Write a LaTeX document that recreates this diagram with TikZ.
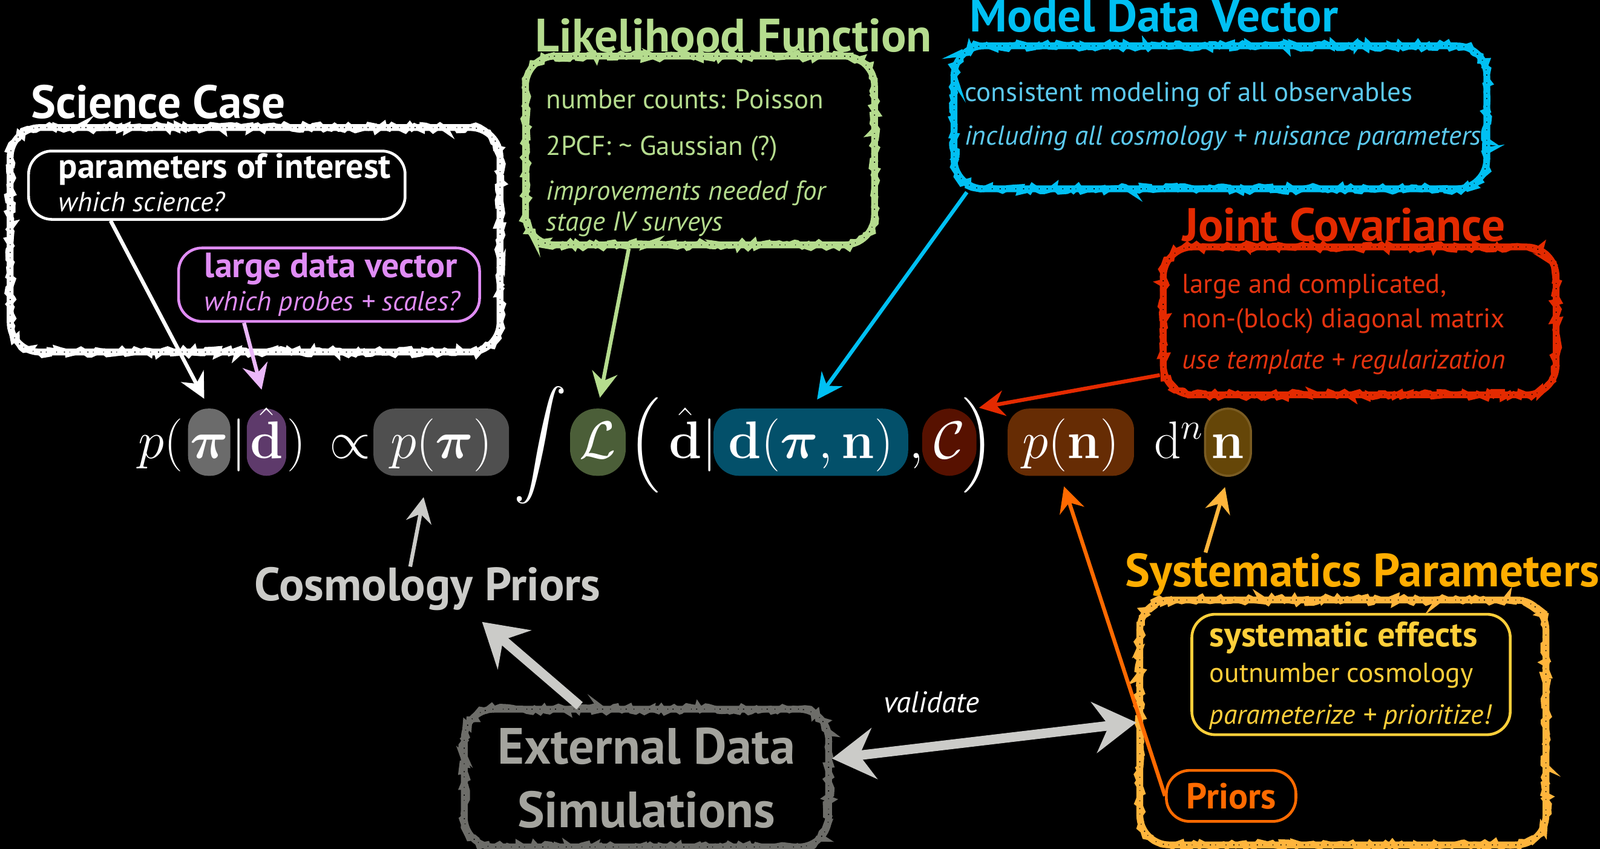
\documentclass[tikz,border=0pt]{standalone}
\usepackage[no-math]{fontspec}
\setmainfont{PT Sans}
\usepackage{amsmath}
\usepackage{tikz}
\usetikzlibrary{positioning,arrows.meta,calc,decorations.pathmorphing}
\definecolor{sciViolet}{HTML}{E08CF5}
\definecolor{sciVioletLight}{HTML}{EBB8FA}
\definecolor{likeGreen}{HTML}{B5DC8E}
\definecolor{modelCyan}{HTML}{00C0F3}
\definecolor{modelCyanText}{HTML}{5CCAF0}
\definecolor{covRed}{HTML}{E42A00}
\definecolor{covRedText}{HTML}{E5330F}
\definecolor{sysOrange}{HTML}{FFAD00}
\definecolor{sysChalk}{HTML}{FFB53C}
\definecolor{sysYellow}{HTML}{FFCF3A}
\definecolor{priorOrange}{HTML}{FF6A00}
\definecolor{cosmoGrey}{HTML}{CBCBC8}
\definecolor{extGrey}{HTML}{6D6D69}
\definecolor{extGreyText}{HTML}{A4A49E}
\definecolor{pillPi}{HTML}{6B6B6B}
\definecolor{pillD}{HTML}{5E3A6B}
\definecolor{pillPrior}{HTML}{4F4F4F}
\definecolor{pillL}{HTML}{4B5E38}
\definecolor{pillModel}{HTML}{03506A}
\definecolor{pillCov}{HTML}{571100}
\definecolor{pillPn}{HTML}{662C04}
\definecolor{pillN}{HTML}{654608}
\definecolor{pillNEdge}{HTML}{7A5C22}

\newcommand{\bigdelim}[2]{\nulldelimiterspace=0pt\relax\left#1\vcenter{\hbox{\rule{0pt}{44pt}}}\right#2}

\tikzset{
  chalkbox/.style={draw=#1, line width=3.2pt, rounded corners=14pt,
    preaction={draw=#1, line width=2.8pt, sharp corners, decorate,
      decoration={random steps, segment length=1.8pt, amplitude=1.4pt}},
    postaction={draw=black, line width=.45pt,
      dash pattern=on .3pt off 3.3pt on .5pt off 2.1pt on .25pt off 4.6pt}},
  ibox/.style={draw=#1, line width=1.3pt, rounded corners=11pt},
  headline/.style={text=#1, inner sep=0pt, font=\fontsize{22}{26}\selectfont\bfseries},
  boxtext/.style={text=#1, inner sep=0pt, anchor=north west, align=left,
    font=\fontsize{12.8}{14.5}\selectfont},
  iboxtext/.style={text=#1, inner sep=0pt, anchor=west, align=left,
    font=\fontsize{13}{15.5}\selectfont},
  fpart/.style={text=white, inner xsep=0pt, inner ysep=1pt,
    font=\fontsize{26}{31}\selectfont},
  pill/.style={fpart, fill=#1, inner xsep=1.5pt, inner ysep=1.3pt, rounded corners=10pt,
    text height=22pt, text depth=7pt},
  arr/.style={draw=#1, line width=1.8pt, shorten >=5pt,
    -{Stealth[length=12pt, width=12pt, inset=4pt]}},
  bigarr/.style={draw=#1, line width=4.5pt,
    -{Stealth[length=20pt, width=24pt, inset=7pt]}},
}
\newcommand{\bfline}[1]{{\fontsize{16.5}{18}\selectfont\bfseries #1}}

\begin{document}
\begin{tikzpicture}[x=0.016862cm, y=-0.016862cm]
  \fill[black] (0,0) rectangle (1568,832);
  \useasboundingbox (0,0) rectangle (1568,832);

  % Science case
  \node[headline=white, anchor=west] (scititle) at (30,100) {Science Case};
  \node[chalkbox=white, minimum width=8.094cm, minimum height=3.71cm] (scibox) at (250,235) {};
  \node[ibox=white, minimum width=6.222cm, minimum height=1.13cm] (params) at (212.5,181.5) {};
  \node[iboxtext=white] (paramstext) at (57,179)
    {\bfline{parameters of interest}\\\textit{which science?}};
  \node[ibox=sciViolet, minimum width=4.974cm, minimum height=1.214cm] (dvec) at (322.5,279) {};
  \node[iboxtext=sciViolet] (dvectext) at (200,279)
    {\bfline{large data vector}\\\textit{which probes + scales?}};

  % Likelihood function
  \node[headline=likeGreen] (liketitle) at (719,35) {Likelihood Function};
  \node[chalkbox=likeGreen, minimum width=5.767cm, minimum height=3.119cm] (likebox) at (686,147.5) {};
  \node[boxtext=likeGreen] (liketext) at (535,87)
    {number counts: Poisson\\[7.5pt]2PCF: \char`~{} Gaussian (?)\\[6.6pt]\textit{improvements needed for}\\\textit{stage IV surveys}};

  % Model data vector
  \node[headline=modelCyan] (modeltitle) at (1131,15) {Model Data Vector};
  \node[chalkbox=modelCyan, minimum width=8.802cm, minimum height=2.361cm] (modelbox) at (1196,115) {};
  \node[boxtext=modelCyanText] (modeltext) at (945,80)
    {consistent modeling of all observables\\[6pt]\textit{including all cosmology + nuisance parameters}};

  % Joint covariance
  \node[headline=covRed] (jointtitle) at (1317,220) {Joint Covariance};
  \node[chalkbox=covRed, minimum width=6.492cm, minimum height=2.445cm] (jointbox) at (1332.5,314.5) {};
  \node[boxtext=covRedText] (jointtext) at (1158,268)
    {large and complicated,\\[1.8pt]non-(block) diagonal matrix\\[4.7pt]\textit{use template + regularization}};

  % Posterior
  \node[fpart, anchor=base west] (f1) at (135,449) {$p($};
  \node[pill=pillPi, inner xsep=1pt, rounded corners=9.4pt, base right=2pt of f1] (hpi) {$\boldsymbol{\pi}$};
  \node[fpart, base right=0pt of hpi] (f2) {$|$};
  \node[pill=pillD, rounded corners=9.4pt, base right=0pt of f2] (hd) {$\hat{\mathbf{d}}$};
  \node[fpart, base right=0pt of hd] (f3) {$)\,\propto$};
  \node[pill=pillPrior, inner xsep=8pt, base right=1pt of f3] (hppi) {$p(\boldsymbol{\pi})$};
  \node[fpart, base right=2pt of hppi] (f4) {$\displaystyle\int$};
  \node[pill=pillL, inner xsep=4.5pt, rounded corners=12.5pt, base right=1pt of f4] (hL) {$\mathcal{L}$};
  \node[fpart, base right=1pt of hL] (f5) {$\bigdelim(.\hat{\mathbf{d}}|$};
  \node[pill=pillModel, inner xsep=7pt, rounded corners=12pt, base right=-2pt of f5] (hdv) {$\mathbf{d}(\boldsymbol{\pi},\mathbf{n})$};
  \node[fpart, base right=0pt of hdv] (f6) {$,$};
  \node[pill=pillCov, inner xsep=5.5pt, rounded corners=13pt, base right=-1pt of f6] (hC) {$\mathcal{C}$};
  \node[fpart, base right=-7pt of hC] (f7) {$\bigdelim.)$};
  \node[pill=pillPn, inner xsep=7pt, base right=6pt of f7] (hpn) {$p(\mathbf{n})$};
  \node[fpart, base right=9pt of hpn] (f8) {$\mathrm{d}^n$};
  \node[pill=pillN, draw=pillNEdge, line width=1pt, inner xsep=3pt, rounded corners=11pt,
    base right=0pt of f8] (hn) {$\mathbf{n}$};

  % Systematics
  \node[headline=sysOrange] (systitle) at (1335,563) {Systematics Parameters};
  \node[chalkbox=sysChalk, minimum width=6.711cm, minimum height=4.047cm] (sysbox) at (1316,708) {};
  \node[ibox=sysYellow, minimum width=5.261cm, minimum height=1.99cm] (sysinner) at (1324,661) {};
  \node[iboxtext=sysYellow] (sysinnertext) at (1185,662)
    {\bfline{systematic effects}\\[1.5pt]outnumber cosmology\\[4pt]\textit{parameterize + prioritize!}};
  \node[ibox=priorOrange, text=priorOrange, font=\fontsize{17}{20}\selectfont\bfseries,
    minimum width=2.141cm, minimum height=.843cm] (priors) at (1206.5,780) {Priors};

  % Cosmology priors and external data
  \node[headline=cosmoGrey] (cosmo) at (419,577) {Cosmology Priors};
  \node[chalkbox=extGrey, minimum width=6.02cm, minimum height=2.276cm, text=extGreyText,
    font=\fontsize{24}{28.8}\selectfont\bfseries, align=center] (extbox) at (633.5,762.5)
    {External Data\\[1pt]Simulations};
  \node[text=white, font=\fontsize{14}{16}\selectfont\itshape] (validate) at (913,688) {validate};

  % Arrows
  \draw[arr=white] ($(params.south west)!.22!(params.south east)$) -- (hpi.north);
  \draw[arr=sciVioletLight, shorten >=9pt] ($(dvec.south west)!.22!(dvec.south east)$) -- (hd.north);
  \draw[arr=likeGreen] ($(likebox.south west)!.3!(likebox.south east)$) -- (hL.north);
  \draw[arr=modelCyan] ($(modelbox.south west)!.03!(modelbox.south east)$) -- (hdv.north);
  \draw[arr=covRed, shorten >=1pt] ($(jointbox.north west)!.85!(jointbox.south west)$) -- (hC.north east);
  \draw[arr=cosmoGrey, shorten >=10pt] ($(cosmo.north west)!.45!(cosmo.north east)$) -- ($(hppi.south west)!.4!(hppi.south east)$);
  \draw[arr=priorOrange] (priors.west) -- ($(hpn.south west)!.42!(hpn.south east)$);
  \draw[arr=sysChalk] ($(systitle.north west)!.17!(systitle.north east)$) -- (hn.south);
  \draw[bigarr=cosmoGrey, shorten >=8pt] ($(extbox.north west)!.32!(extbox.north east)$) -- ($(cosmo.south west)!.62!(cosmo.south east)$);
  \draw[bigarr=cosmoGrey, {Stealth[length=20pt, width=24pt, inset=7pt]}-{Stealth[length=20pt, width=24pt, inset=7pt]}]
    (extbox.6) -- (sysbox.west);
\end{tikzpicture}
\end{document}
